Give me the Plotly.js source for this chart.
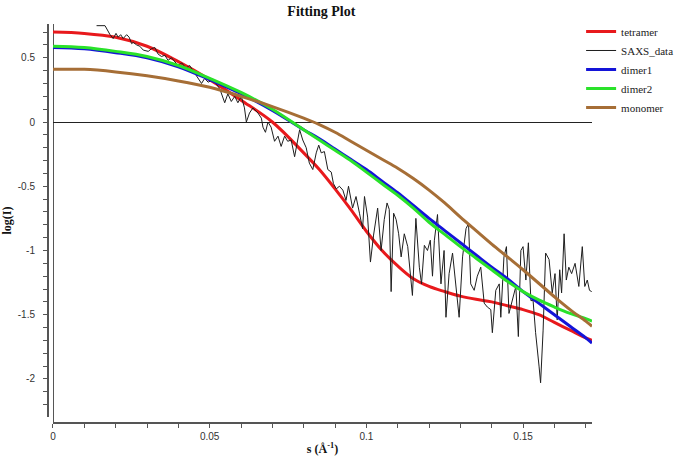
<!DOCTYPE html>
<html>
<head>
<meta charset="utf-8">
<script src="https://cdn.plot.ly/plotly-3.0.1.min.js"></script>
<style>html,body{margin:0;padding:0;background:#fff;}#chart{width:678px;height:460px;}</style>
</head>
<body>
<div id="chart"></div>
<script>
// SAXS experimental data (s in 1/Å, log(I))
var sData = [0.0139,0.0166,0.0182,0.0192,0.0201,0.0208,0.0216,0.0224,0.0235,0.0243,0.0251,0.0256,0.0267,0.0277,0.0288,0.0304,0.0314,0.0325,0.0335,0.0346,0.0357,0.0367,0.0378,0.0389,0.0399,0.0411,0.0424,0.0436,
0.0447,0.0463,0.0474,0.0484,0.0495,0.0511,0.0521,0.0532,0.0548,0.0558,0.0569,0.0580,0.0590,0.0601,0.0611,0.0617,0.0627,0.0638,0.0654,0.0665,0.0670,
0.0678,0.0686,0.0696,0.0707,0.0718,0.0728,0.0739,0.0749,0.0760,0.0771,0.0781,0.0787,0.0797,0.0808,0.0818,0.0829,0.0840,0.0848,0.0856,0.0866,0.0877,0.0888,0.0895,0.0904,0.0914,0.0925,0.0935,0.0943,
0.0956,0.0967,0.0978,0.0988,0.0994,0.1004,0.1013,0.1023,0.1036,0.1047,0.1057,0.1066,0.1073,0.1079,0.1087,0.1095,0.1103,0.1111,0.1121,0.1132,0.1147,0.1158,0.1169,0.1176,0.1185,0.1195,0.1204,0.1211,
0.1217,0.1227,0.1238,0.1248,0.1254,0.1264,0.1275,0.1286,0.1296,0.1307,0.1318,0.1326,0.1333,0.1344,0.1354,0.1365,0.1376,0.1386,0.1397,0.1402,0.1413,0.1424,0.1429,0.1439,0.1447,0.1455,0.1466,0.1477,0.1485,0.1493,
0.1500,0.1509,0.1517,0.1525,0.1532,0.1540,0.1551,0.1556,0.1564,0.1572,0.1583,0.1593,0.1602,0.1609,0.1617,0.1623,0.1631,0.1638,0.1646,0.1655,0.1666,0.1678,0.1689,0.1697,0.1705,0.1712,0.1719];
var iData = [0.75,0.75,0.68,0.65,0.69,0.66,0.68,0.65,0.68,0.66,0.61,0.62,0.60,0.59,0.56,0.55,0.57,0.58,0.53,0.51,0.52,0.48,0.50,0.47,0.44,0.46,0.42,0.44,
0.40,0.35,0.30,0.34,0.31,0.33,0.30,0.26,0.15,0.22,0.16,0.20,0.15,0.20,0.11,0.00,0.07,0.11,0.07,0.03,-0.04,
-0.08,0.00,-0.04,-0.15,-0.11,-0.19,-0.11,-0.15,-0.14,-0.27,-0.15,-0.06,-0.14,-0.20,-0.32,-0.37,-0.24,-0.18,-0.24,-0.23,-0.37,-0.39,-0.48,-0.52,-0.50,-0.53,-0.61,-0.50,
-0.67,-0.58,-0.71,-0.83,-0.58,-0.74,-1.09,-0.88,-0.67,-1.00,-0.76,-0.63,-0.68,-1.32,-0.71,-0.76,-0.87,-1.05,-0.87,-0.97,-1.35,-0.75,-1.13,-1.26,-0.96,-1.00,-0.92,-1.20,
-0.92,-0.72,-1.26,-1.00,-1.52,-1.18,-1.02,-1.31,-1.52,-1.05,-0.83,-0.79,-1.26,-1.31,-1.20,-1.13,-1.41,-1.44,-1.46,-1.64,-1.31,-1.26,-1.52,-1.05,-0.97,-1.49,-1.39,-1.28,-1.67,-1.00,
-0.97,-1.23,-0.94,-1.39,-1.39,-1.64,-1.90,-2.03,-1.62,-1.02,-1.07,-1.33,-1.18,-1.54,-1.15,-1.33,-0.87,-1.23,-1.13,-1.18,-1.10,-1.28,-0.97,-1.28,-1.23,-1.31,-1.32];

// Model curves
var sModel   = [0,0.01,0.02,0.03,0.04,0.05,0.06,0.07,0.08,0.085,0.09,0.095,0.1,0.105,0.11,0.115,0.12,0.125,0.13,0.135,0.14,0.145,0.15,0.155,0.16,0.165,0.17,0.172];
var tetramer = [0.70,0.69,0.66,0.59,0.47,0.33,0.17,0.00,-0.24,-0.37,-0.52,-0.68,-0.85,-1.00,-1.12,-1.22,-1.28,-1.32,-1.355,-1.38,-1.40,-1.43,-1.46,-1.50,-1.56,-1.62,-1.68,-1.70];
var dimer1   = [0.58,0.57,0.54,0.50,0.43,0.33,0.22,0.09,-0.06,-0.13,-0.21,-0.29,-0.37,-0.46,-0.55,-0.65,-0.75,-0.845,-0.94,-1.035,-1.13,-1.22,-1.32,-1.41,-1.50,-1.59,-1.68,-1.72];
var dimer2   = [0.59,0.58,0.55,0.51,0.44,0.34,0.23,0.10,-0.06,-0.14,-0.22,-0.30,-0.39,-0.48,-0.57,-0.67,-0.78,-0.875,-0.97,-1.06,-1.15,-1.24,-1.32,-1.385,-1.44,-1.49,-1.53,-1.55];
var monomer  = [0.41,0.41,0.39,0.36,0.32,0.27,0.20,0.12,0.03,-0.02,-0.08,-0.15,-0.22,-0.29,-0.36,-0.44,-0.53,-0.63,-0.74,-0.845,-0.95,-1.05,-1.15,-1.255,-1.36,-1.46,-1.55,-1.59];

var seriesNames = ['tetramer','SAXS_data','dimer1','dimer2','monomer'];
var xTickVals = [0,0.05,0.1,0.15];
var xTickText = ['0','0.05','0.1','0.15'];
var yTickVals = [0.5,0,-0.5,-1,-1.5,-2];
var yTickText = ['0.5','0','-0.5','-1','-1.5','-2'];

var serif = 'Liberation Serif';
var sans = 'Liberation Sans';

var traces = [
  {x:sModel, y:tetramer, name:seriesNames[0], mode:'lines', line:{color:'#e8191c', width:3, shape:'spline'}},
  {x:sData, y:iData, name:seriesNames[1], mode:'lines', line:{color:'#1e1e1e', width:1}},
  {x:sModel, y:dimer1, name:seriesNames[2], mode:'lines', line:{color:'#1414d8', width:3, shape:'spline'}},
  {x:sModel, y:dimer2, name:seriesNames[3], mode:'lines', line:{color:'#2ae22a', width:3, shape:'spline'}},
  {x:sModel, y:monomer, name:seriesNames[4], mode:'lines', line:{color:'#a66e36', width:3, shape:'spline'}}
];

var layout = {
  width:678, height:460,
  margin:{l:47, r:86, t:24, b:38, autoexpand:false},
  paper_bgcolor:'#fff', plot_bgcolor:'#fff',
  showlegend:true,
  font:{family:serif},
  title:{text:'<b>Fitting Plot</b>', font:{family:serif, size:14, color:'#111'}, x:0.474, xanchor:'center', y:0.976, yanchor:'middle'},
  legend:{x:0.98, xanchor:'left', y:1.0176, yanchor:'top', font:{family:serif, size:11, color:'#222'}, bgcolor:'rgba(0,0,0,0)', traceorder:'normal'},
  xaxis:{
    domain:[0.011,1], range:[0,0.172], anchor:'free', position:0,
    showgrid:false, zeroline:false, showline:true, linecolor:'#555', linewidth:1.5,
    ticks:'outside', ticklen:4, tickcolor:'#555', tickwidth:1,
    tickmode:'array', tickvals:xTickVals, ticktext:xTickText,
    minor:{dtick:0.01, tick0:0, ticks:'outside', ticklen:4, tickcolor:'#555', tickwidth:1, showgrid:false},
    tickfont:{family:sans, size:10, color:'#333'},
    title:{text:'<b>s (Å<sup>-1</sup>)</b>', font:{family:serif, size:12, color:'#111'}, standoff:4}
  },
  yaxis:{
    domain:[0.0126,1], range:[-2.296,0.763], anchor:'free', position:0,
    showgrid:false, zeroline:true, zerolinecolor:'#222', zerolinewidth:1,
    showline:true, linecolor:'#555', linewidth:1.5,
    ticks:'outside', ticklen:4, tickcolor:'#555', tickwidth:1,
    tickmode:'array', tickvals:yTickVals, ticktext:yTickText,
    minor:{dtick:0.1, tick0:0, ticks:'outside', ticklen:4, tickcolor:'#555', tickwidth:1, showgrid:false},
    tickfont:{family:sans, size:10, color:'#333'},
    ticklabelstandoff:6,
    title:{text:'<b>log(I)</b>', font:{family:serif, size:12, color:'#111'}, standoff:4}
  },
  shapes:[
    {type:'line', xref:'x', yref:'paper', x0:0, x1:0, y0:0, y1:1, line:{color:'#555', width:2}, layer:'below'}
  ]
};

Plotly.newPlot('chart', traces, layout, {displayModeBar:false, staticPlot:true});
</script>
</body>
</html>
